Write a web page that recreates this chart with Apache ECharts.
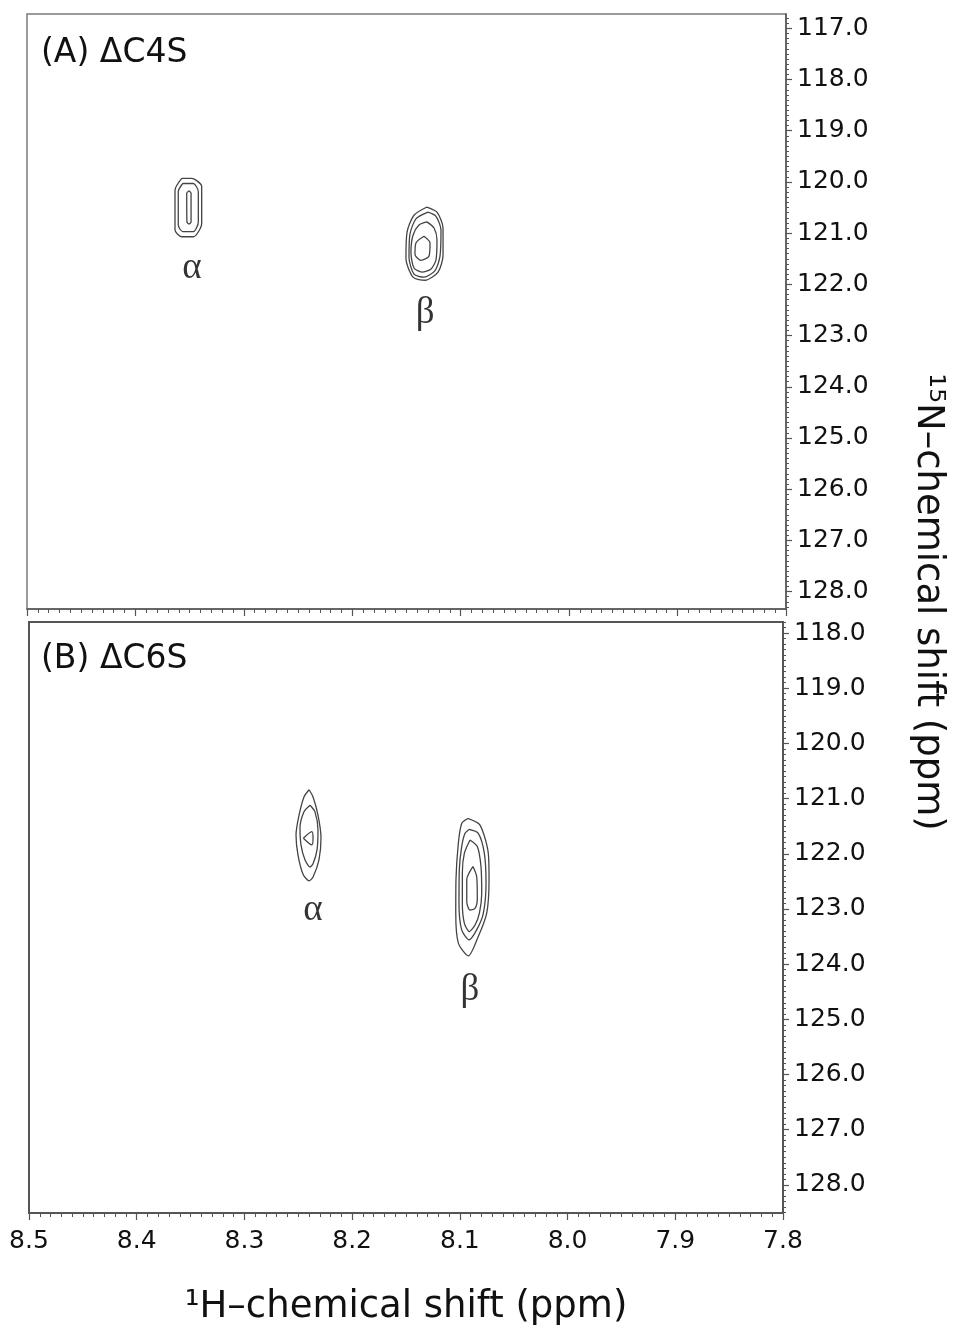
<!DOCTYPE html>
<html><head><meta charset="utf-8">
<script src="https://cdn.jsdelivr.net/npm/echarts@6/dist/echarts.min.js"></script>
<style>html,body{margin:0;padding:0;background:#fff}#c{width:953px;height:1330px}</style>
</head><body><div id="c"></div>
<script>
// ---- text ----
const panelLabels = ['(A) \u0394C4S', '(B) \u0394C6S'];
const xTitle = '\u00B9H\u2013chemical shift (ppm)';
const yTitle = '\u00B9\u2075N\u2013chemical shift (ppm)';

// ---- axes ----
const xTickValues = [8.5, 8.4, 8.3, 8.2, 8.1, 8.0, 7.9, 7.8];
const yTickValuesA = [117, 118, 119, 120, 121, 122, 123, 124, 125, 126, 127, 128];
const yTickValuesB = [118, 119, 120, 121, 122, 123, 124, 125, 126, 127, 128];
const xRange = [7.8, 8.5];
const yRangeA = [116.72, 128.34];
const yRangeB = [117.80, 128.51];

// ---- contour levels: [1H ppm, 15N ppm] ----
const alphaA = [
  [[8.3573,119.93],[8.3481,119.93],[8.3389,120.09],[8.3389,120.81],[8.3466,121.07],[8.3573,121.07],[8.3635,120.94],[8.3635,120.16]],
  [[8.3564,120.03],[8.3466,120.03],[8.3420,120.19],[8.3420,120.78],[8.3466,120.97],[8.3564,120.97],[8.3605,120.84],[8.3605,120.19]],
  [[8.3505,120.17],[8.3487,120.22],[8.3487,120.78],[8.3505,120.82],[8.3525,120.78],[8.3527,120.22]]
];
const betaA = [
  [[8.1311,120.49],[8.1219,120.59],[8.1163,120.90],[8.1163,121.43],[8.1209,121.76],[8.1329,121.92],[8.1440,121.86],[8.1505,121.49],[8.1495,120.98],[8.1431,120.65]],
  [[8.1302,120.59],[8.1228,120.67],[8.1182,120.94],[8.1191,121.45],[8.1237,121.73],[8.1339,121.86],[8.1431,121.80],[8.1477,121.47],[8.1468,121.02],[8.1413,120.72]],
  [[8.1311,120.78],[8.1246,120.90],[8.1219,121.13],[8.1228,121.52],[8.1274,121.70],[8.1357,121.76],[8.1431,121.68],[8.1459,121.37],[8.1440,121.04],[8.1385,120.84]],
  [[8.1339,121.06],[8.1283,121.19],[8.1293,121.45],[8.1366,121.53],[8.1422,121.41],[8.1413,121.19]]
];
const alphaB = [
  [[8.2400,120.84],[8.2363,120.97],[8.2317,121.30],[8.2289,121.71],[8.2308,122.11],[8.2363,122.42],[8.2400,122.49],[8.2456,122.37],[8.2503,122.02],[8.2521,121.66],[8.2493,121.30],[8.2447,120.97]],
  [[8.2391,121.12],[8.2345,121.24],[8.2317,121.57],[8.2326,121.93],[8.2363,122.18],[8.2391,122.24],[8.2438,122.11],[8.2475,121.84],[8.2484,121.53],[8.2447,121.24]],
  [[8.2453,121.72],[8.2375,121.60],[8.2363,121.71],[8.2375,121.84]]
];
const betaB = [
  [[8.0927,121.36],[8.0813,121.48],[8.0736,121.99],[8.0729,122.47],[8.0751,123.08],[8.0829,123.50],[8.0921,123.85],[8.1014,123.62],[8.1038,123.08],[8.1036,122.47],[8.1014,121.81],[8.0983,121.45]],
  [[8.0915,121.56],[8.0829,121.63],[8.0773,121.99],[8.0757,122.53],[8.0782,123.08],[8.0844,123.38],[8.0915,123.56],[8.0983,123.38],[8.1008,122.90],[8.1005,122.29],[8.0983,121.87],[8.0952,121.63]],
  [[8.0906,121.75],[8.0838,121.87],[8.0804,122.23],[8.0797,122.72],[8.0819,123.08],[8.0859,123.29],[8.0912,123.41],[8.0958,123.26],[8.0977,122.90],[8.0977,122.35],[8.0958,121.99]],
  [[8.0878,122.23],[8.0844,122.41],[8.0838,122.81],[8.0859,122.99],[8.0906,123.02],[8.0936,122.87],[8.0936,122.47]]
];
const peakLabelsA = [{name:'\u03B1', value:[8.3478,121.68]}, {name:'\u03B2', value:[8.1329,122.56]}];
const peakLabelsB = [{name:'\u03B1', value:[8.2363,123.02]}, {name:'\u03B2', value:[8.0906,124.47]}];

// ---- build ----
const SANS = 'DejaVu Sans';
const INK = '#111';
const AX = '#555';
function steps(lo, hi, step) {
  const out = [];
  const s = Math.ceil(lo / step - 1e-9), e = Math.floor(hi / step + 1e-9);
  for (let i = s; i <= e; i++) out.push(+(i * step).toFixed(4));
  return out;
}
function xAxes(gridIndex, showLabels, lineW) {
  const major = {
    type:'value', gridIndex, min:xRange[0], max:xRange[1], inverse:true, position:'bottom',
    axisLine:{show:true, onZero:false, lineStyle:{color:AX, width:lineW}},
    axisTick:{show:true, customValues:xTickValues, length:7, lineStyle:{color:AX, width:1.2}},
    axisLabel:{show:showLabels, customValues:xTickValues, formatter:v=>v.toFixed(1), fontFamily:SANS, fontSize:25, color:INK, margin:16},
    splitLine:{show:false}
  };
  if (showLabels) {
    Object.assign(major, {name:xTitle, nameLocation:'middle', nameGap:76,
      nameTextStyle:{fontFamily:SANS, fontSize:37, color:INK}});
  }
  const minor = {
    type:'value', gridIndex, min:xRange[0], max:xRange[1], inverse:true, position:'bottom',
    axisLine:{show:false, onZero:false},
    axisTick:{show:true, customValues:steps(xRange[0], xRange[1], 0.01), length:4, lineStyle:{color:AX, width:1}},
    axisLabel:{show:false}, splitLine:{show:false}
  };
  return [major, minor];
}
function yAxes(gridIndex, range, ticks, lineW) {
  const major = {
    type:'value', gridIndex, min:range[0], max:range[1], inverse:true, position:'right',
    axisLine:{show:true, onZero:false, lineStyle:{color:AX, width:lineW}},
    axisTick:{show:true, customValues:ticks, length:6, lineStyle:{color:AX, width:1.2}},
    axisLabel:{show:true, customValues:ticks, formatter:v=>v.toFixed(1), fontFamily:SANS, fontSize:25, color:INK, margin:11},
    splitLine:{show:false}
  };
  const minor = {
    type:'value', gridIndex, min:range[0], max:range[1], inverse:true, position:'right',
    axisLine:{show:false, onZero:false},
    axisTick:{show:true, customValues:steps(range[0], range[1], 0.1), length:3, lineStyle:{color:AX, width:1}},
    axisLabel:{show:false}, splitLine:{show:false}
  };
  return [major, minor];
}
function closed(poly) { return poly.concat([poly[0]]); }
function contourSeries(polys, axisIndex) {
  return polys.map(p => ({
    type:'line', xAxisIndex:axisIndex, yAxisIndex:axisIndex, data:closed(p),
    symbol:'none', smooth:0.25, silent:true, z:3,
    lineStyle:{color:'#444', width:1.3}
  }));
}
function labelSeries(items, axisIndex) {
  return {
    type:'scatter', xAxisIndex:axisIndex, yAxisIndex:axisIndex, data:items,
    symbolSize:1, silent:true, itemStyle:{color:'rgba(0,0,0,0)'},
    label:{show:true, formatter:'{b}', position:'inside', fontFamily:'Liberation Serif', fontSize:37, color:'#000'}
  };
}

const chart = echarts.init(document.getElementById('c'), null, {renderer:'canvas'});
chart.setOption({
  animation:false,
  backgroundColor:'#fff',
  grid:[
    {left:27, top:14, width:759, height:595, show:true, borderColor:'#7a7a7a', borderWidth:1.5, backgroundColor:'transparent'},
    {left:29, top:622, width:754, height:591, show:true, borderColor:'#555', borderWidth:2, backgroundColor:'transparent'}
  ],
  xAxis: xAxes(0, false, 1.5).concat(xAxes(1, true, 2)),
  yAxis: yAxes(0, yRangeA, yTickValuesA, 1.5).concat(yAxes(1, yRangeB, yTickValuesB, 2)),
  series: [].concat(
    contourSeries(alphaA, 0), contourSeries(betaA, 0),
    contourSeries(alphaB, 2), contourSeries(betaB, 2),
    [labelSeries(peakLabelsA, 0), labelSeries(peakLabelsB, 2)]
  ),
  graphic:[
    {type:'text', x:41, y:53, style:{text:panelLabels[0], fontFamily:SANS, fontSize:33, fill:INK, align:'left', verticalAlign:'middle'}},
    {type:'text', x:41, y:659, style:{text:panelLabels[1], fontFamily:SANS, fontSize:33, fill:INK, align:'left', verticalAlign:'middle'}},
    {type:'text', x:928, y:602, rotation:-Math.PI/2, style:{text:yTitle, fontFamily:SANS, fontSize:37, fill:INK, align:'center', verticalAlign:'middle'}}
  ]
});
</script>
</body></html>
